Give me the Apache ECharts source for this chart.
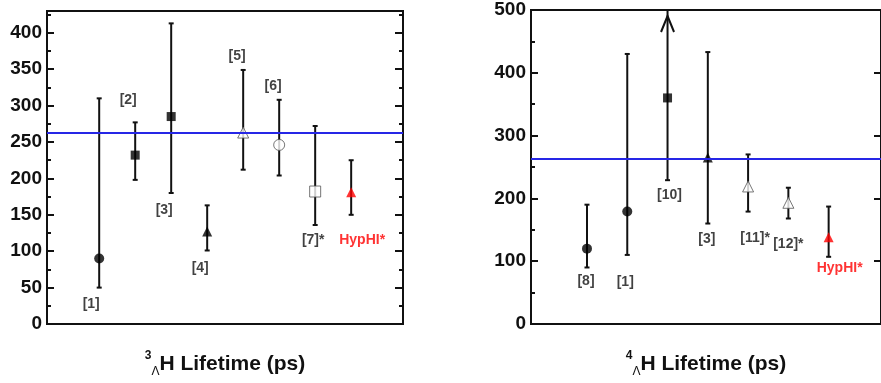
<!DOCTYPE html>
<html>
<head>
<meta charset="utf-8">
<script src="https://cdn.jsdelivr.net/npm/echarts@6/dist/echarts.min.js"></script>
<style>
  html, body { margin: 0; padding: 0; background: #fff; }
  #main { width: 881px; height: 383px; }
</style>
</head>
<body>
<div id="main"></div>
<script>
// hypertriton (3ΛH) lifetimes, ps
const refs3 = ['[1]', '[2]', '[3]', '[4]', '[5]', '[6]', '[7]*', 'HypHI*'];
const tau3 = [90, 232, 285, 127, 263, 246, 182, 181];
const lower3 = [50, 198, 180, 101, 212, 204, 136, 150];
const upper3 = [310, 277, 413, 163, 349, 308, 272, 225];

// 4ΛH lifetimes, ps
const refs4 = ['[8]', '[1]', '[10]', '[3]', '[11]*', '[12]*', 'HypHI*'];
const tau4 = [120, 179, 360, 265, 219, 193, 138];
const lower4 = [90, 110, 229, 160, 179, 168, 107];
const upper4 = [190, 430, 500, 433, 270, 217, 187];
const offScale4 = [false, false, true, false, false, false, false]; // upper bound beyond the axis

// free Lambda lifetime (blue line)
const freeLambda = 263;

// y axis ranges / steps
const yMax3 = 430, yStep3 = 50, yMinor3 = 25;
const yMax4 = 500, yStep4 = 100;

// ---- marker styles ----
const filled = (symbol, size) => ({ symbol, symbolSize: size, itemStyle: { color: '#000' } });
const open = (symbol, size) => ({ symbol, symbolSize: size, itemStyle: { color: '#fff', borderColor: '#555', borderWidth: 1 } });
const red = size => ({ symbol: 'triangle', symbolSize: size, itemStyle: { color: '#ff0000' } });

const markers3 = [filled('circle', 10), filled('rect', 9), filled('rect', 9), filled('triangle', 10),
  open('triangle', 11), open('circle', 11), open('rect', 11), red(10)];
const markers4 = [filled('circle', 10), filled('circle', 10), filled('rect', 9), filled('triangle', 10),
  open('triangle', 11), open('triangle', 11), red(10)];

// label offsets (px) from the marker centre
const labelOffsets3 = [[-8, 46], [-7, -55], [-7, 94], [-7, 37], [-6, -76], [-6, -59], [-2, 49], [11, 48]];
const labelOffsets4 = [[-1, 33], [-2, 71], [2, 97], [-1, 82], [7, 52], [0, 41], [11, 31]];

const FONT = 'Liberation Sans, Arial, Helvetica, sans-serif';
const ink = '#111';

function pointData(refs, tau, markers, offsets) {
  return tau.map((v, i) => ({
    value: [i + 1, v],
    ...markers[i],
    label: {
      show: true,
      position: 'inside',
      formatter: refs[i],
      offset: offsets[i],
      fontSize: 14,
      fontWeight: 'bold',
      color: refs[i].startsWith('HypHI') ? '#ff0000' : '#111'
    }
  }));
}

function barData(lower, upper, flags) {
  return lower.map((lo, i) => [i + 1, lo, upper[i], flags && flags[i] ? 1 : 0]);
}

function renderErrorBar(params, api) {
  const x = api.value(0);
  const lo = api.coord([x, api.value(1)]);
  const hi = api.coord([x, api.value(2)]);
  const style = { stroke: ink, lineWidth: 2 };
  const cap = 2.5;
  const kids = [
    { type: 'line', shape: { x1: lo[0], y1: lo[1], x2: hi[0], y2: hi[1] }, style },
    { type: 'line', shape: { x1: lo[0] - cap, y1: lo[1], x2: lo[0] + cap, y2: lo[1] }, style }
  ];
  if (api.value(3)) {
    const tip = hi[1] + 6;
    kids.push({ type: 'polyline', shape: { points: [[hi[0] - 6.5, tip + 16], [hi[0], tip], [hi[0] + 6.5, tip + 16]] },
      style: { stroke: ink, lineWidth: 2, fill: null } });
  } else {
    kids.push({ type: 'line', shape: { x1: hi[0] - cap, y1: hi[1], x2: hi[0] + cap, y2: hi[1] }, style });
  }
  return { type: 'group', children: kids };
}

function yAxis(grid, position, max, interval, tickLen, labels, showMax) {
  return {
    type: 'value', gridIndex: grid, position, min: 0, max, interval,
    axisLine: { show: false, onZero: false },
    axisTick: { show: true, inside: true, length: tickLen, lineStyle: { color: ink, width: 2 } },
    axisLabel: labels
      ? { show: true, fontSize: 19, fontWeight: 'bold', color: ink, margin: 5, showMaxLabel: showMax }
      : { show: false },
    splitLine: { show: false }
  };
}

function xAxis(grid, min, max, sup) {
  return {
    type: 'value', gridIndex: grid, min, max,
    axisLine: { show: false, onZero: false },
    axisTick: { show: false }, axisLabel: { show: false }, splitLine: { show: false },
    name: '{sup|' + sup + '}{sub|Λ}{main|H Lifetime (ps)}',
    nameLocation: 'middle',
    nameGap: 26,
    nameTextStyle: {
      rich: {
        sup: { fontSize: 12, fontWeight: 'bold', color: ink, verticalAlign: 'top', lineHeight: 28 },
        sub: { fontSize: 12, color: ink, verticalAlign: 'bottom', lineHeight: 28 },
        main: { fontSize: 21, fontWeight: 'bold', color: ink, verticalAlign: 'middle', lineHeight: 28 }
      }
    }
  };
}

function refLine(xi, yi) {
  return {
    type: 'line', xAxisIndex: xi, yAxisIndex: yi, data: [], z: 1,
    markLine: {
      silent: true, symbol: 'none', animation: false,
      label: { show: false },
      lineStyle: { color: '#2626e6', width: 2, type: 'solid' },
      data: [{ yAxis: freeLambda }]
    }
  };
}

const chart = echarts.init(document.getElementById('main'));
chart.setOption({
  animation: false,
  textStyle: { fontFamily: FONT },
  grid: [
    { left: 47, top: 11, right: 478, bottom: 55, show: true, borderColor: ink, borderWidth: 2, backgroundColor: 'transparent' },
    { left: 531, top: 10, right: -3, bottom: 55, show: true, borderColor: ink, borderWidth: 2, backgroundColor: 'transparent' }
  ],
  xAxis: [
    xAxis(0, -0.45, 9.44, '3'),
    xAxis(1, -0.39, 8.3, '4')
  ],
  yAxis: [
    yAxis(0, 'left', yMax3, yStep3, 7, true, false),
    yAxis(0, 'left', yMax3, yMinor3, 4, false),
    yAxis(0, 'right', yMax3, yStep3, 8, false),
    yAxis(0, 'right', yMax3, yMinor3, 4, false),
    Object.assign(yAxis(1, 'left', yMax4, yStep4, 7, true, true),
      { minorTick: { show: true, splitNumber: 2, length: 4, lineStyle: { color: ink, width: 2 } } }),
    yAxis(1, 'right', yMax4, yStep4, 7, false)
  ],
  series: [
    refLine(0, 0),
    {
      type: 'custom', xAxisIndex: 0, yAxisIndex: 0, z: 2,
      renderItem: renderErrorBar, encode: { x: 0, y: [1, 2] },
      data: barData(lower3, upper3)
    },
    {
      type: 'scatter', xAxisIndex: 0, yAxisIndex: 0, z: 3,
      data: pointData(refs3, tau3, markers3, labelOffsets3)
    },
    refLine(1, 4),
    {
      type: 'custom', xAxisIndex: 1, yAxisIndex: 4, z: 2,
      renderItem: renderErrorBar, encode: { x: 0, y: [1, 2] },
      data: barData(lower4, upper4, offScale4)
    },
    {
      type: 'scatter', xAxisIndex: 1, yAxisIndex: 4, z: 3,
      data: pointData(refs4, tau4, markers4, labelOffsets4)
    }
  ]
});
</script>
</body>
</html>
